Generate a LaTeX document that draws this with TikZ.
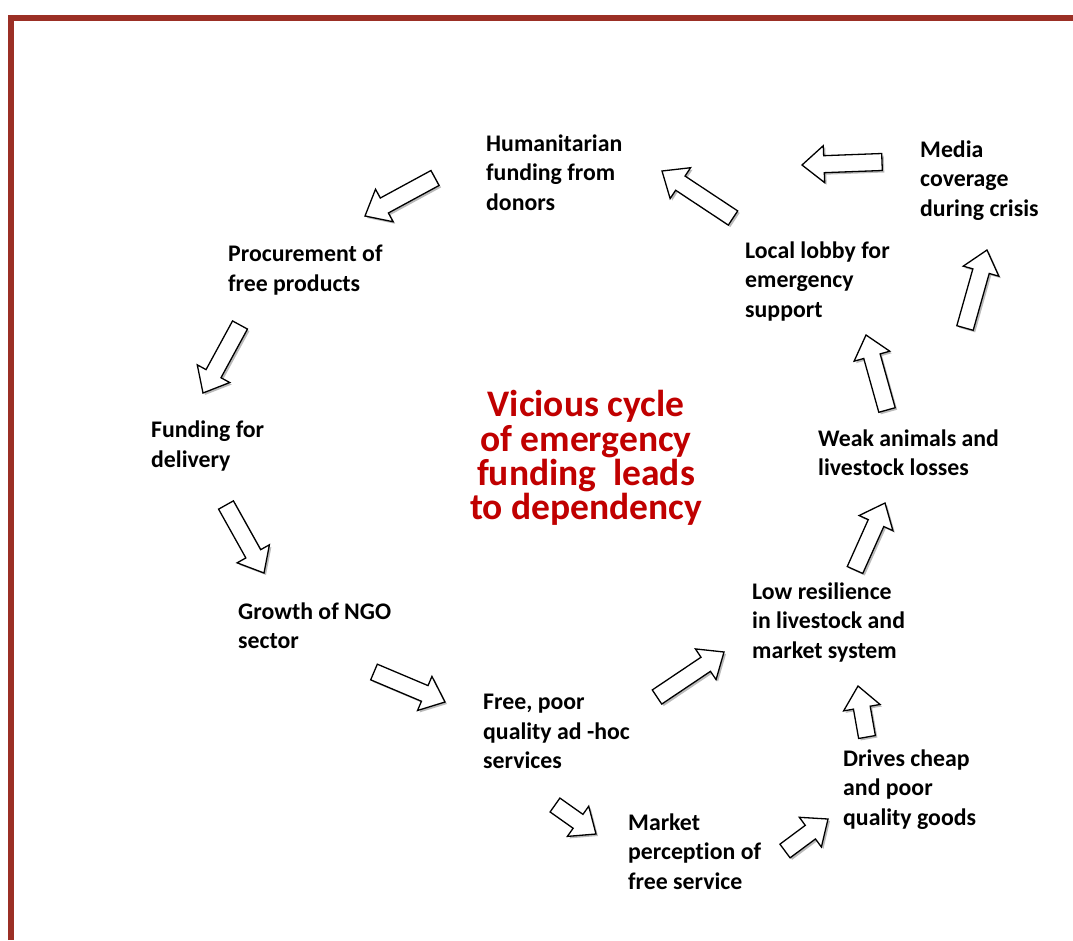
\documentclass[tikz,border=0pt]{standalone}
\usepackage{fontspec}
\setmainfont{Carlito}[Ligatures=NoCommon]
\usetikzlibrary{calc,shadows}
\definecolor{framered}{HTML}{9B2F25}
\definecolor{titlered}{HTML}{C00000}
\tikzset{
  itemtext/.style={anchor=west, align=left, inner sep=0pt, font=\fontsize{23.8}{29.5}\selectfont\bfseries},
  headtext/.style={align=center, inner sep=0pt, text=titlered, font=\fontsize{37.5}{34.3}\selectfont\bfseries},
  blockarrow/.style={draw=black, line width=1.3pt, fill=white, line join=miter,
    drop shadow={shadow xshift=2pt, shadow yshift=-2pt, opacity=0.45, fill=black!60}}
}
\newcommand\blockarr[2]{%
  \coordinate (#1-b) at ($(#2)!22pt!(#1)$);
  \draw[blockarrow] ($(#1)!8.5pt!90:(#2)$) -- ($(#1-b)!8.5pt!90:(#2)$) -- ($(#1-b)!18.5pt!90:(#2)$)
    -- (#2) -- ($(#1-b)!18.5pt!-90:(#2)$) -- ($(#1-b)!8.5pt!-90:(#2)$) -- ($(#1)!8.5pt!-90:(#2)$) -- cycle;
}
\begin{document}
\begin{tikzpicture}[x=1pt,y=-1pt]
\useasboundingbox (0,0) rectangle (1073,940);
\draw[framered, line width=6pt] (11,940) -- (11,18) -- (1073,18);

\node[itemtext] (donors) at (486,172.5) {Humanitarian\\funding from\\donors};
\node[itemtext] (media) at (920,180.5) {Media\\coverage\\during crisis};
\node[itemtext] (procure) at (228,270) {Procurement of\\free products};
\node[itemtext] (lobby) at (745,281.5) {Local lobby for\\emergency\\support};
\node[itemtext] (delivery) at (151,446) {Funding for\\delivery};
\node[itemtext] (weak) at (818,452.5) {Weak animals and\\livestock losses};
\node[itemtext] (ngo) at (238,625.5) {Growth of NGO\\sector};
\node[itemtext] (resil) at (752,622.5) {Low resilience\\in livestock and\\market system};
\node[itemtext] (free) at (483,731.5) {Free, poor\\quality ad -hoc\\services};
\node[itemtext] (cheap) at (843,789.5) {Drives cheap\\and poor\\quality goods};
\node[itemtext] (market) at (628,851.5) {Market\\perception of\\free service};
\node[headtext] (cycle) at (586,458) {Vicious cycle\\of emergency\\funding~ leads\\to dependency};

% block arrows round the cycle: tail x/y, head x/y
\foreach \i/\tx/\ty/\hx/\hy in {1/435/178/365/216, 2/240/325/203/393, 3/226/505/264/573,
    4/374/672/445/702, 5/657/697/724/652, 6/555/805/596/834, 7/785/851/828/819,
    8/867/737/858/686, 9/855/570/885/503, 10/887/410/866/335, 11/965/328/987/250,
    12/882/162/802/165, 13/733/218/662/171}{
  \coordinate (t\i) at (\tx,\ty);
  \coordinate (h\i) at (\hx,\hy);
  \blockarr{t\i}{h\i}
}
\end{tikzpicture}
\end{document}
